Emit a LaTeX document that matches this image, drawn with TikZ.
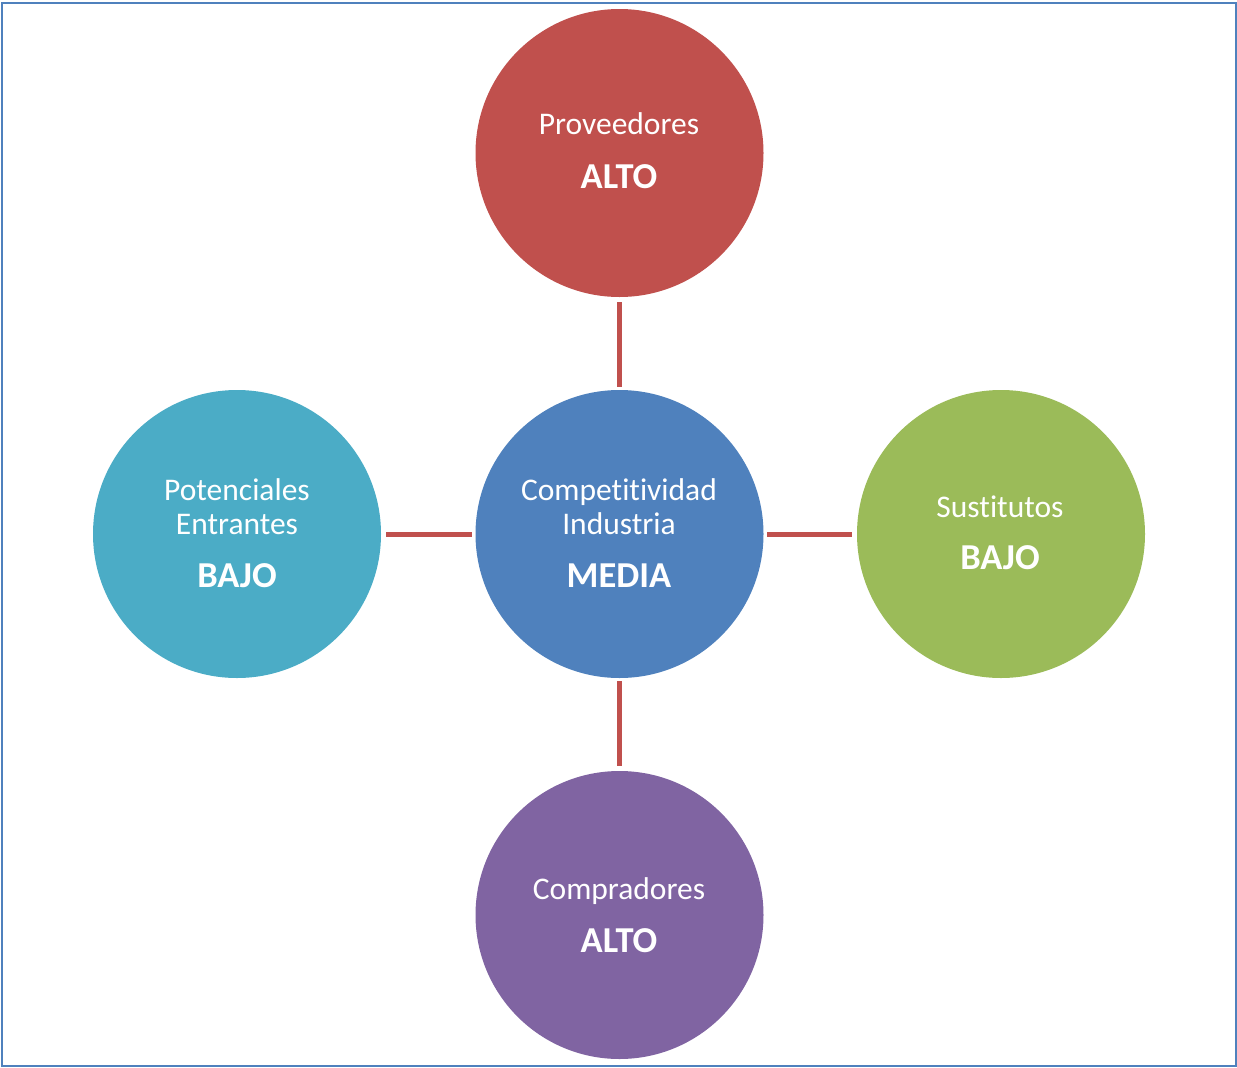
\documentclass[tikz,border=0pt]{standalone}
\usepackage{fontspec}
\setmainfont[Ligatures=CommonOff]{Carlito}
\definecolor{cred}{HTML}{C0504D}
\definecolor{cblue}{HTML}{4F81BD}
\definecolor{caqua}{HTML}{4BACC6}
\definecolor{cgreen}{HTML}{9BBB59}
\definecolor{cpurple}{HTML}{8064A2}
\definecolor{cframe}{HTML}{4F81BD}
\begin{document}
\begin{tikzpicture}[x=1pt,y=-1pt,
  bub/.style={circle,minimum size=288pt,inner sep=0pt,draw=none},
  reg/.style={anchor=base,text=white,inner sep=0pt,font=\fontsize{31.5}{34}\selectfont},
  big/.style={anchor=base,text=white,inner sep=0pt,font=\fontsize{36.5}{40}\selectfont\bfseries},
  link/.style={draw=cred,line width=5pt,shorten <=5pt,shorten >=3pt}]
\useasboundingbox (0,0) rectangle (1237,1068);
\draw[cframe,line width=2pt] (1.5,2.5) rectangle (1235.5,1066);
\node[bub,fill=cred] (top) at (619.5,153) {};
\node[bub,fill=cblue] (mid) at (619.5,534) {};
\node[bub,fill=caqua] (left) at (237,534) {};
\node[bub,fill=cgreen] (right) at (1001,534) {};
\node[bub,fill=cpurple] (bot) at (619.5,915) {};
\draw[link] (top) -- (mid);
\draw[link] (bot) -- (mid);
\draw[link] (left) -- (mid);
\draw[link] (right) -- (mid);
% labels
\node[reg] (t1) at (619,134) {Proveedores};
\node[big] (t2) at (619,188) {ALTO};
\node[reg] (m1) at (619,500) {Competitividad};
\node[reg] (m2) at (619,534) {Industria};
\node[big] (m3) at (619,587) {MEDIA};
\node[reg] (l1) at (237,500) {Potenciales};
\node[reg] (l2) at (237,534) {Entrantes};
\node[big] (l3) at (237,587) {BAJO};
\node[reg] (r1) at (1000,517) {Sustitutos};
\node[big] (r2) at (1000,569) {BAJO};
\node[reg] (b1) at (619,899) {Compradores};
\node[big] (b2) at (619,952) {ALTO};
\end{tikzpicture}
\end{document}
